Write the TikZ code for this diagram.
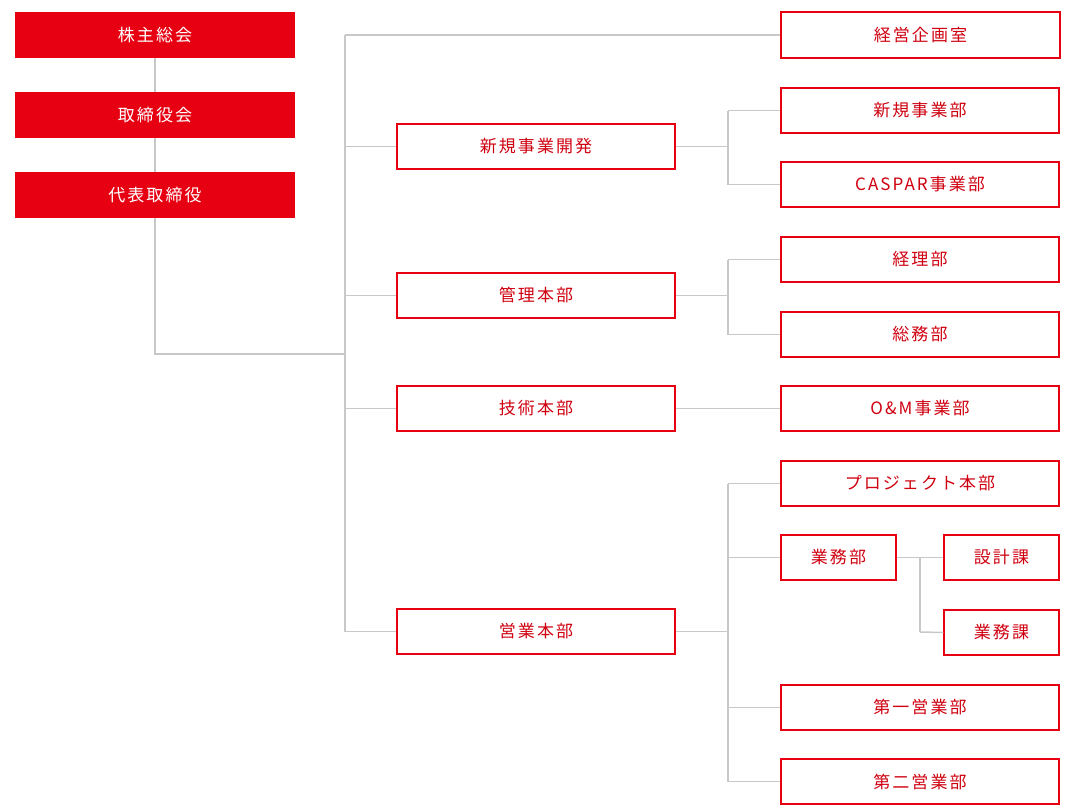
\documentclass[tikz,border=0pt]{standalone}
\usepackage{fontspec}
\setmainfont[LetterSpace=12]{Noto Sans CJK JP}
\definecolor{jred}{HTML}{E60012}
\definecolor{lgray}{HTML}{C8C8C8}
\begin{document}
\begin{tikzpicture}[x=1pt,y=-1pt,
 font=\fontsize{17}{20}\selectfont,
 top/.style={fill=jred,text=white,inner sep=0},
 org/.style={draw=jred,line width=1.5pt,fill=white,text=jred!90!black,inner sep=0},
 ln/.style={draw=lgray,line width=1.5pt}]
\useasboundingbox (0,0) rectangle (1079,805);
\newcommand\bx[7]{\node[#1,minimum width=#4-#3,minimum height=#6-#5] (#2) at ({(#3+#4)/2},{(#5+#6)/2}) {#7};}
% connectors first
\coordinate (t1) at (345,35);
\coordinate (t2) at (345,632);
\coordinate (j) at (345,354);
\coordinate (b1) at (728,111);
\coordinate (b2) at (728,185);
\coordinate (b3) at (728,260);
\coordinate (b4) at (728,335);
\coordinate (b5) at (728,484);
\coordinate (b6) at (728,782);
\coordinate (s1) at (920,558);
\coordinate (s2) at (920,632);
\bx{top}{a}{15}{295}{12}{58}{株主総会}
\bx{top}{b}{15}{295}{92}{138}{取締役会}
\bx{top}{c}{15}{295}{172}{218}{代表取締役}
\draw[ln] (t1) -- (t2);
\draw[ln] (a) -- (b); \draw[ln] (b) -- (c);
\draw[ln] (c.south) |- (j);
\draw[ln] (b1) -- (b2); \draw[ln] (b3) -- (b4); \draw[ln] (b5) -- (b6);
\draw[ln] (s1) -- (s2);
\bx{org}{m0}{781}{1060}{12}{58}{経営企画室}
\bx{org}{m1}{397}{675}{124}{169}{新規事業開発}
\bx{org}{m2}{397}{675}{273}{318}{管理本部}
\bx{org}{m3}{397}{675}{386}{431}{技術本部}
\bx{org}{m4}{397}{675}{609}{654}{営業本部}
\bx{org}{r1}{781}{1059}{88}{133}{新規事業部}
\bx{org}{r2}{781}{1059}{162}{207}{CASPAR事業部}
\bx{org}{r3}{781}{1059}{237}{282}{経理部}
\bx{org}{r4}{781}{1059}{312}{357}{総務部}
\bx{org}{r5}{781}{1059}{386}{431}{O\&M事業部}
\bx{org}{r6}{781}{1059}{461}{506}{プロジェクト本部}
\bx{org}{r7}{781}{896}{535}{580}{業務部}
\bx{org}{r8}{944}{1059}{535}{580}{設計課}
\bx{org}{r9}{944}{1059}{610}{655}{業務課}
\bx{org}{r10}{781}{1059}{685}{730}{第一営業部}
\bx{org}{r11}{781}{1059}{759}{804}{第二営業部}
\begin{scope}[on background layer/.style={}]
\end{scope}
\draw[ln] (t1) -- (m0.west);
\foreach \m in {m1,m2,m3,m4} \draw[ln] (\m.west -| t1) -- (\m.west);
\draw[ln] (m1.east) -- (m1.east -| b1);
\draw[ln] (m2.east) -- (m2.east -| b1);
\draw[ln] (m3.east) -- (r5.west);
\draw[ln] (m4.east) -- (m4.east -| b1);
\foreach \r in {r1,r2,r3,r4,r6,r7,r10,r11} \draw[ln] (\r.west -| b1) -- (\r.west);
\draw[ln] (r7.east) -- (r8.west);
\draw[ln] (s2) -- (r9.west);
\end{tikzpicture}
\end{document}
